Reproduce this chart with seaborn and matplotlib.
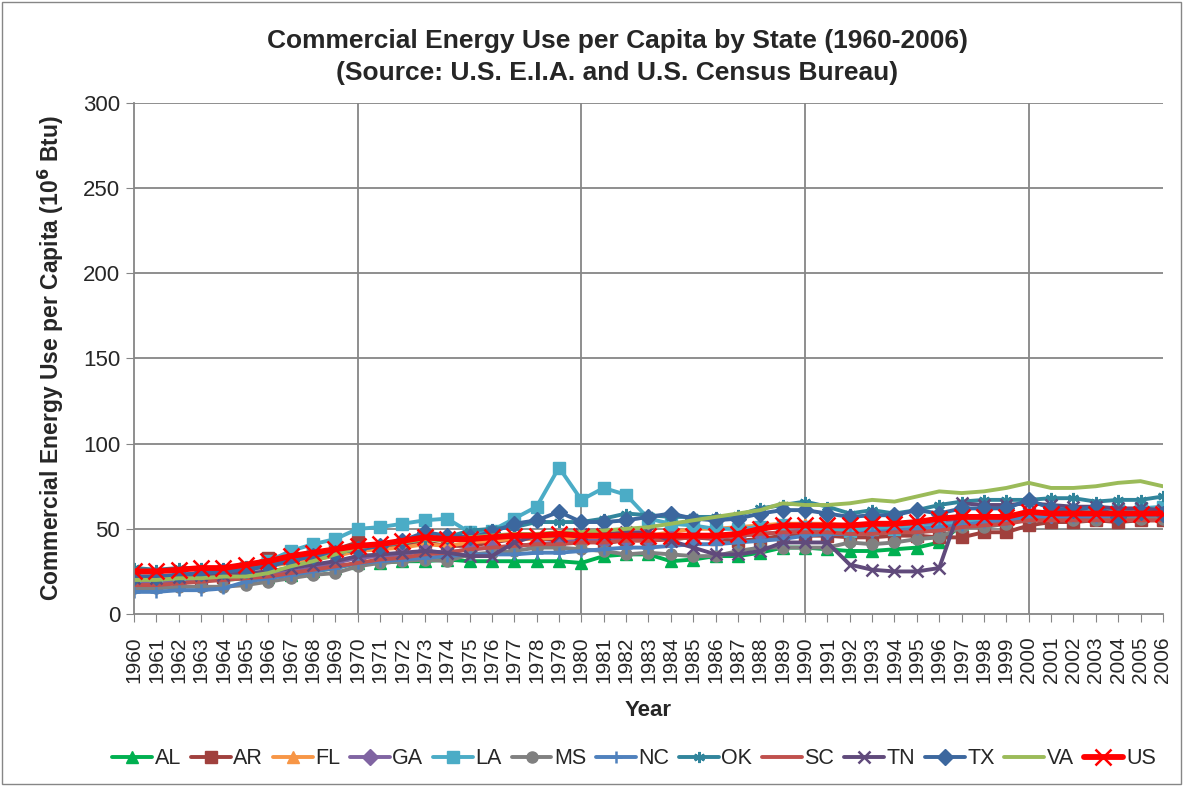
import matplotlib
matplotlib.use("Agg")
import matplotlib.pyplot as plt
import pandas as pd
import seaborn as sns
from matplotlib.patches import Rectangle

years = list(range(1960, 2007))

al = [18, 18, 19, 20, 20, 21, 22, 23, 25, 27, 30, 30, 31, 31, 32, 31, 31, 31, 31, 31, 30, 34, 35, 35, 31, 32,
      34, 34, 36, 39, 39, 38, 37, 37, 38, 39, 42, 52, 53, 54, 57, 57, 57, 57, 58, 58, 58]
ar = [19, 19, 20, 21, 22, 27, 33, 34, 36, 38, 42, 38, 40, 42, 40, 40, 42, 44, 44, 44, 44, 41, 44, 43, 44, 45,
      44, 43, 44, 46, 46, 46, 45, 45, 46, 46, 45, 45, 48, 48, 52, 54, 54, 55, 54, 55, 55]
fl = [22, 22, 23, 24, 25, 26, 28, 30, 32, 34, 37, 38, 39, 41, 40, 42, 43, 44, 44, 45, 44, 45, 46, 46, 48, 50,
      50, 51, 52, 53, 53, 53, 52, 52, 52, 52, 53, 55, 56, 57, 59, 59, 59, 59, 59, 59, 59]
ga = [18, 18, 19, 20, 21, 22, 24, 25, 27, 30, 33, 34, 35, 37, 36, 38, 39, 40, 41, 42, 43, 43, 44, 44, 45, 45,
      45, 46, 47, 48, 49, 49, 50, 50, 51, 52, 53, 55, 56, 57, 58, 58, 58, 58, 58, 58, 58]
la = [22, 22, 23, 24, 25, 27, 31, 37, 41, 44, 50, 51, 53, 55, 56, 48, 49, 56, 63, 86, 67, 74, 70, 56, 53, 52,
      50, 50, 51, 52, 51, 50, 49, 50, 50, 51, 52, 54, 55, 56, 58, 59, 60, 60, 61, 62, 63]
ms = [15, 15, 16, 16, 16, 17, 19, 21, 23, 24, 28, 30, 31, 32, 31, 35, 36, 37, 39, 39, 38, 37, 35, 36, 35, 34,
      34, 37, 39, 39, 39, 39, 42, 41, 42, 44, 45, 51, 51, 53, 57, 58, 55, 55, 57, 56, 56]
nc = [13, 13, 14, 14, 15, 19, 21, 23, 25, 27, 30, 31, 32, 33, 34, 35, 35, 35, 36, 36, 37, 38, 39, 39, 40, 41,
      41, 42, 43, 44, 46, 47, 47, 48, 49, 50, 51, 52, 54, 55, 57, 57, 57, 57, 58, 58, 58]
ok = [27, 26, 27, 27, 27, 28, 30, 32, 34, 36, 38, 40, 42, 44, 45, 49, 50, 51, 54, 54, 54, 56, 59, 58, 57, 57,
      57, 58, 62, 64, 66, 63, 59, 61, 59, 61, 64, 66, 67, 67, 67, 68, 68, 66, 67, 67, 69]
sc = [17, 17, 18, 19, 20, 21, 22, 24, 26, 28, 30, 32, 33, 35, 36, 38, 39, 40, 41, 41, 42, 42, 43, 43, 44, 45,
      45, 46, 47, 48, 48, 48, 47, 47, 48, 48, 49, 51, 52, 53, 55, 55, 55, 55, 55, 55, 55]
tn = [21, 21, 22, 23, 23, 24, 25, 27, 29, 31, 34, 35, 36, 37, 36, 34, 34, 42, 46, 46, 47, 47, 48, 48, 43, 39,
      35, 35, 37, 42, 42, 42, 29, 26, 25, 25, 27, 65, 64, 64, 65, 64, 63, 63, 62, 62, 61]
tx = [22, 22, 23, 24, 25, 26, 28, 31, 34, 36, 38, 40, 43, 48, 46, 45, 48, 53, 55, 60, 54, 54, 55, 57, 59, 56,
      55, 56, 59, 61, 61, 59, 57, 58, 58, 61, 59, 62, 62, 62, 67, 62, 61, 63, 57, 60, 59]
va = [20, 20, 21, 21, 22, 22, 24, 28, 31, 35, 39, 41, 42, 44, 43, 45, 46, 47, 47, 48, 48, 49, 50, 51, 53, 55,
      57, 59, 61, 65, 64, 64, 65, 67, 66, 69, 72, 71, 72, 74, 77, 74, 74, 75, 77, 78, 75]
us = [25, 25, 26, 27, 27, 29, 31, 34, 36, 38, 40, 41, 43, 45, 44, 44, 45, 46, 46, 47, 46, 46, 46, 46, 46, 46,
      46, 47, 50, 52, 52, 52, 52, 53, 53, 54, 56, 57, 57, 57, 60, 59, 59, 59, 59, 59, 59]

labels = ["AL", "AR", "FL", "GA", "LA", "MS", "NC", "OK", "SC", "TN", "TX", "VA", "US"]
series = [al, ar, fl, ga, la, ms, nc, ok, sc, tn, tx, va, us]
colors = ["#00B050", "#A0403D", "#F79646", "#8064A2", "#4BACC6", "#808080", "#4F81BD",
          "#31859C", "#C0504D", "#604A7B", "#3C679E", "#9BBB59", "#FF0000"]
markers = ["^", "s", "^", "D", "s", "o", "+", (6, 2, 0), None, "x", "D", None, "x"]

df = pd.DataFrame({"Year": years})
for lab, vals in zip(labels, series):
    df[lab] = vals

sns.set_style("white")
plt.rcParams["font.family"] = ["Liberation Sans", "DejaVu Sans"]

fig = plt.figure(figsize=(11.83, 7.86), dpi=100)
ax = fig.add_axes([0.1133, 0.2188, 0.8697, 0.6502])

for lab, col, mk in zip(labels, colors, markers):
    lw = 4.2 if lab == "US" else 2.8
    ms_ = 11 if lab == "US" else 8
    mew = 1.8 if mk in ("+", "x", (6, 2, 0)) else 1
    sns.lineplot(data=df, x="Year", y=lab, ax=ax, color=col, linewidth=lw,
                 marker=mk, markersize=ms_, markeredgecolor=col, markeredgewidth=mew,
                 label=lab)

ax.set_xlim(1960, 2006)
ax.set_ylim(0, 300)
ax.set_xticks(years)
ax.set_xticklabels([str(y) for y in years], rotation=90, fontsize=15)
ax.set_yticks(range(0, 301, 50))
ax.tick_params(axis="y", labelsize=16, length=6, color="#868686", direction="out", left=True, pad=4)
ax.tick_params(axis="x", length=6, color="#868686", direction="out", bottom=True, pad=10)
ax.grid(False)
for yv in range(50, 301, 50):
    ax.axhline(yv, color="#868686", linewidth=1.3, zorder=0)
for xv in range(1970, 2001, 10):
    ax.axvline(xv, color="#868686", linewidth=1.3, zorder=0)
for side in ["top", "right"]:
    ax.spines[side].set_visible(False)
for side in ["left", "bottom"]:
    ax.spines[side].set_color("#868686")
    ax.spines[side].set_linewidth(1.3)

ax.set_xlabel("Year", fontsize=16, fontweight="bold", labelpad=12)
ax.set_ylabel("Commercial Energy Use per Capita (10$^\\mathbf{6}$ Btu)", fontsize=16.5,
              fontweight="bold", labelpad=12)
fig.text(0.5216, 1 - 29 / 786,
         "Commercial Energy Use per Capita by State (1960-2006)\n"
         "(Source: U.S. E.I.A. and U.S. Census Bureau)",
         ha="center", va="top", fontsize=19, fontweight="bold", linespacing=1.4)

ax.legend(loc="upper center", bbox_to_anchor=(0.486, -0.225), ncol=13, frameon=False,
          fontsize=15.5, handlelength=1.85, columnspacing=0.45, handletextpad=0.12)

fig.patches.append(Rectangle((0.002, 0.002), 0.996, 0.996, transform=fig.transFigure,
                             fill=False, edgecolor="#868686", linewidth=1))

fig.savefig("out.png", dpi=100)
